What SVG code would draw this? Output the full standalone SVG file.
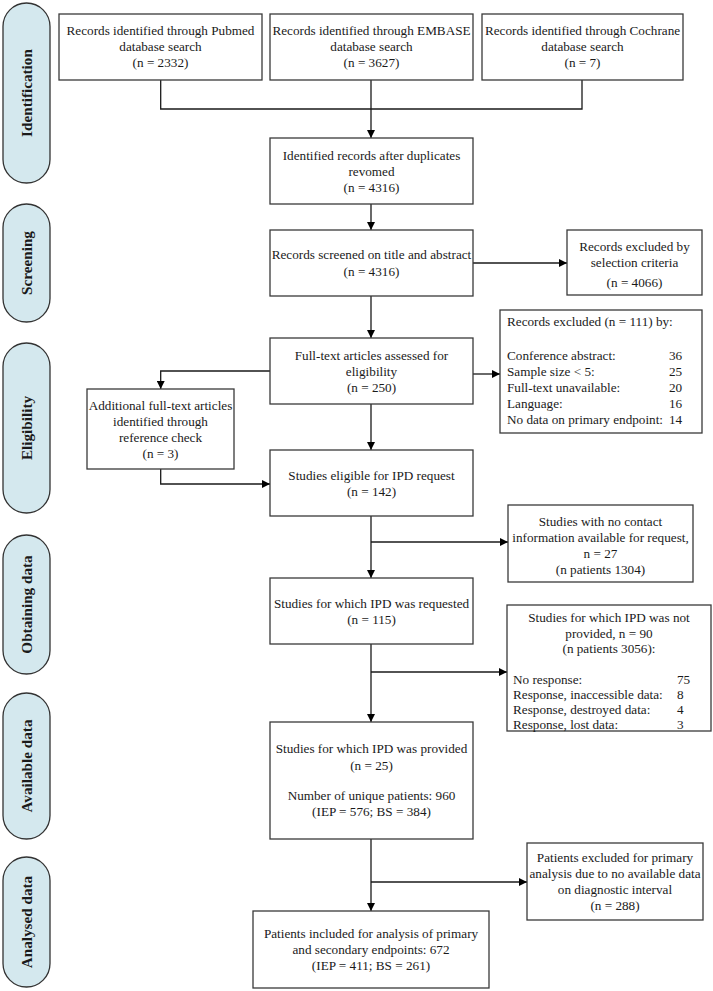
<svg xmlns="http://www.w3.org/2000/svg" width="713" height="991" viewBox="0 0 713 991">
<style>
.b{fill:#fff;stroke:#3a3a3a;stroke-width:1.3}
.p{fill:#d4e8ee;stroke:#333;stroke-width:1.3}
text{font-family:"Liberation Serif","Times New Roman",serif;font-size:13.2px;fill:#1a1a1a}
.c{text-anchor:middle}
.s{font-size:15.2px;font-weight:bold;text-anchor:middle}
.r{text-anchor:start}
.l{fill:none;stroke:#1a1a1a;stroke-width:1.3}
</style>
<defs>
<marker id="a" viewBox="0 0 10 10" refX="10" refY="5" markerWidth="8" markerHeight="8" markerUnits="userSpaceOnUse" orient="auto">
<path d="M0,0 L10,5 L0,10 z" fill="#000"/>
</marker>
</defs>
<rect width="713" height="991" fill="#fff"/>
<g id="stages">
<g id="st-identification"><rect class="p" x="3" y="3" width="47" height="180" rx="23.5"/><text class="s" transform="translate(32,93) rotate(-90)">Identification</text></g>
<g id="st-screening"><rect class="p" x="3" y="204" width="47" height="118" rx="23.5"/><text class="s" transform="translate(32,263) rotate(-90)">Screening</text></g>
<g id="st-eligibility"><rect class="p" x="3" y="343" width="47" height="170" rx="23.5"/><text class="s" transform="translate(32,428) rotate(-90)">Eligibility</text></g>
<g id="st-obtaining"><rect class="p" x="3" y="535" width="47" height="139" rx="23.5"/><text class="s" transform="translate(32,604.5) rotate(-90)">Obtaining data</text></g>
<g id="st-available"><rect class="p" x="3" y="693" width="47" height="146" rx="23.5"/><text class="s" transform="translate(32,766) rotate(-90)">Available data</text></g>
<g id="st-analysed"><rect class="p" x="3" y="857" width="47" height="130" rx="23.5"/><text class="s" transform="translate(32,922) rotate(-90)">Analysed data</text></g>
</g>
<g id="connectors">
<polyline class="l" points="160.7,80 160.7,109 582,109 582,80"/>
<line class="l" x1="371" y1="80" x2="371" y2="138" marker-end="url(#a)"/>
<line class="l" x1="371" y1="204" x2="371" y2="230" marker-end="url(#a)"/>
<line class="l" x1="473" y1="263" x2="567" y2="263" marker-end="url(#a)"/>
<line class="l" x1="371" y1="296" x2="371" y2="338" marker-end="url(#a)"/>
<line class="l" x1="473" y1="374" x2="500" y2="374" marker-end="url(#a)"/>
<polyline class="l" points="270,371 160.7,371 160.7,389" marker-end="url(#a)"/>
<line class="l" x1="371" y1="404" x2="371" y2="450" marker-end="url(#a)"/>
<polyline class="l" points="160.7,469 160.7,484 270,484" marker-end="url(#a)"/>
<line class="l" x1="371" y1="516" x2="371" y2="578" marker-end="url(#a)"/>
<line class="l" x1="371" y1="542" x2="508" y2="542" marker-end="url(#a)"/>
<line class="l" x1="371" y1="644" x2="371" y2="722" marker-end="url(#a)"/>
<line class="l" x1="371" y1="672" x2="507" y2="672" marker-end="url(#a)"/>
<line class="l" x1="371" y1="839" x2="371" y2="911" marker-end="url(#a)"/>
<line class="l" x1="371" y1="882" x2="527" y2="882" marker-end="url(#a)"/>
</g>
<g id="n-pubmed"><rect class="b" x="59" y="14" width="203" height="66"/>
<text class="c" x="160.5" y="35">Records identified through Pubmed</text><text class="c" x="160.5" y="51">database search</text><text class="c" x="160.5" y="67">(n = 2332)</text></g>
<g id="n-embase"><rect class="b" x="270" y="14" width="203" height="66"/>
<text class="c" x="371.5" y="35">Records identified through EMBASE</text><text class="c" x="371.5" y="51">database search</text><text class="c" x="371.5" y="67">(n = 3627)</text></g>
<g id="n-cochrane"><rect class="b" x="482" y="14" width="201" height="66"/>
<text class="c" x="582.5" y="35">Records identified through Cochrane</text><text class="c" x="582.5" y="51">database search</text><text class="c" x="582.5" y="67">(n = 7)</text></g>
<g id="n-identified"><rect class="b" x="270" y="138" width="203" height="66"/>
<text class="c" x="371.5" y="160">Identified records after duplicates</text><text class="c" x="371.5" y="176">revomed</text><text class="c" x="371.5" y="192">(n = 4316)</text></g>
<g id="n-screened"><rect class="b" x="270" y="230" width="203" height="66"/>
<text class="c" x="371.5" y="259">Records screened on title and abstract</text><text class="c" x="371.5" y="276">(n = 4316)</text></g>
<g id="n-excl-selection"><rect class="b" x="567" y="230" width="135" height="65"/>
<text class="c" x="634.5" y="251">Records excluded by</text><text class="c" x="634.5" y="267">selection criteria</text><text class="c" x="634.5" y="287">(n = 4066)</text></g>
<g id="n-fulltext"><rect class="b" x="270" y="338" width="203" height="66"/>
<text class="c" x="371.5" y="360">Full-text articles assessed for</text><text class="c" x="371.5" y="376">eligibility</text><text class="c" x="371.5" y="392">(n = 250)</text></g>
<g id="n-excl-111"><rect class="b" x="500" y="310" width="202" height="123"/>
<text class="r" x="507" y="326">Records excluded (n = 111) by:</text>
<text class="r" x="507" y="360">Conference abstract:</text><text class="r" x="669" y="360">36</text>
<text class="r" x="507" y="376">Sample size &lt; 5:</text><text class="r" x="669" y="376">25</text>
<text class="r" x="507" y="392">Full-text unavailable:</text><text class="r" x="669" y="392">20</text>
<text class="r" x="507" y="408">Language:</text><text class="r" x="669" y="408">16</text>
<text class="r" x="507" y="424">No data on primary endpoint:</text><text class="r" x="669" y="424">14</text></g>
<g id="n-additional"><rect class="b" x="87" y="389" width="147" height="80"/>
<text class="c" x="160.5" y="410">Additional full-text articles</text><text class="c" x="160.5" y="426">identified through</text><text class="c" x="160.5" y="442">reference check</text><text class="c" x="160.5" y="458">(n = 3)</text></g>
<g id="n-eligible"><rect class="b" x="270" y="450" width="203" height="66"/>
<text class="c" x="371.5" y="480">Studies eligible for IPD request</text><text class="c" x="371.5" y="496">(n = 142)</text></g>
<g id="n-nocontact"><rect class="b" x="508" y="505" width="185" height="77"/>
<text class="c" x="600.5" y="526">Studies with no contact</text><text class="c" x="600.5" y="542">information available for request,</text><text class="c" x="600.5" y="558">n = 27</text><text class="c" x="600.5" y="574">(n patients 1304)</text></g>
<g id="n-requested"><rect class="b" x="270" y="578" width="203" height="66"/>
<text class="c" x="371.5" y="608">Studies for which IPD was requested</text><text class="c" x="371.5" y="624">(n = 115)</text></g>
<g id="n-notprovided"><rect class="b" x="507" y="605" width="204" height="126"/>
<text class="c" x="609" y="622">Studies for which IPD was not</text><text class="c" x="609" y="638">provided, n = 90</text><text class="c" x="609" y="653">(n patients 3056):</text>
<text class="r" x="513" y="684">No response:</text><text class="r" x="677" y="684">75</text>
<text class="r" x="513" y="699">Response, inaccessible data:</text><text class="r" x="677" y="699">8</text>
<text class="r" x="513" y="714">Response, destroyed data:</text><text class="r" x="677" y="714">4</text>
<text class="r" x="513" y="729">Response, lost data:</text><text class="r" x="677" y="729">3</text></g>
<g id="n-provided"><rect class="b" x="270" y="722" width="203" height="117"/>
<text class="c" x="371.5" y="753">Studies for which IPD was provided</text><text class="c" x="371.5" y="770">(n = 25)</text>
<text class="c" x="371.5" y="800">Number of unique patients: 960</text><text class="c" x="371.5" y="816">(IEP = 576; BS = 384)</text></g>
<g id="n-patexcl"><rect class="b" x="527" y="843" width="176" height="77"/>
<text class="c" x="615" y="862">Patients excluded for primary</text><text class="c" x="615" y="878">analysis due to no available data</text><text class="c" x="615" y="894">on diagnostic interval</text><text class="c" x="615" y="910">(n = 288)</text></g>
<g id="n-included"><rect class="b" x="253" y="911" width="236" height="77"/>
<text class="c" x="371" y="938">Patients included for analysis of primary</text><text class="c" x="371" y="954">and secondary endpoints: 672</text><text class="c" x="371" y="970">(IEP = 411; BS = 261)</text></g>
</svg>
